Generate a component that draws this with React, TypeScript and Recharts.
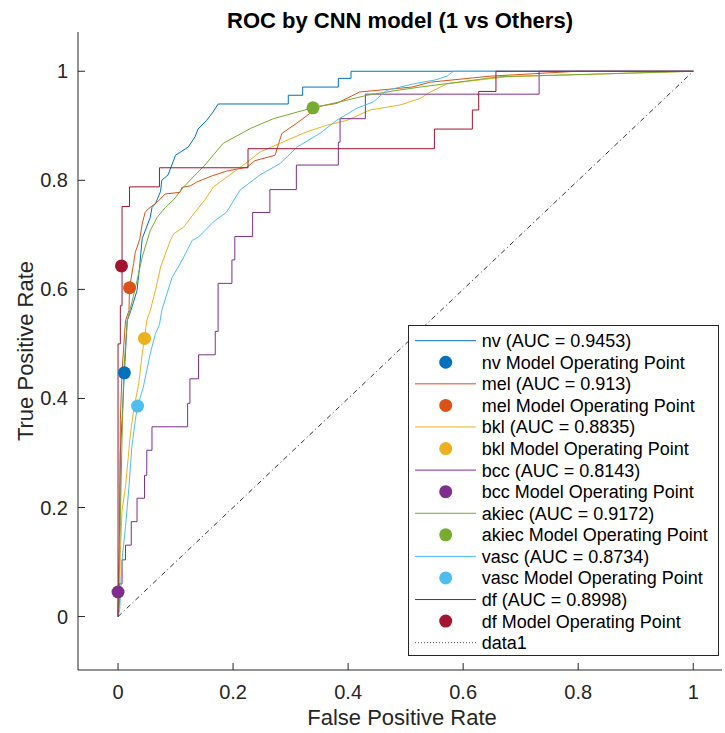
import React from 'react';
import { ComposedChart, Line, Scatter, XAxis, YAxis } from 'recharts';

type Pt = [number, number];

const FONT = '"Liberation Sans", Arial, Helvetica, sans-serif';

const classNames = ['nv', 'mel', 'bkl', 'bcc', 'akiec', 'vasc', 'df'];
const aucLabels = ['0.9453', '0.913', '0.8835', '0.8143', '0.9172', '0.8734', '0.8998'];
const classColors = ['#0072BD', '#D95319', '#EDB120', '#7E2F8E', '#77AC30', '#4DBEEE', '#A2142F'];

const nvRoc: Pt[] = [
  [0, 0], [0.002, 0.1], [0.004, 0.3], [0.008, 0.38], [0.011, 0.447], [0.016, 0.543], [0.022, 0.56],
  [0.033, 0.598], [0.038, 0.647], [0.042, 0.693], [0.056, 0.732], [0.059, 0.75], [0.065, 0.757],
  [0.074, 0.78], [0.076, 0.8], [0.087, 0.81], [0.1, 0.846], [0.122, 0.861], [0.134, 0.88],
  [0.139, 0.894], [0.154, 0.91], [0.165, 0.925], [0.174, 0.94], [0.296, 0.94], [0.296, 0.956],
  [0.321, 0.956], [0.321, 0.971], [0.383, 0.971], [0.383, 0.987], [0.405, 0.987], [0.405, 1], [1, 1],
];

const melRoc: Pt[] = [
  [0, 0], [0.003, 0.15], [0.004, 0.36], [0.007, 0.45], [0.013, 0.543], [0.019, 0.561], [0.02, 0.603],
  [0.027, 0.647], [0.03, 0.668], [0.038, 0.693], [0.042, 0.72], [0.047, 0.741], [0.053, 0.748],
  [0.068, 0.76], [0.082, 0.775], [0.108, 0.778], [0.111, 0.787], [0.126, 0.79], [0.137, 0.797],
  [0.163, 0.808], [0.189, 0.817], [0.224, 0.824], [0.238, 0.836], [0.273, 0.846], [0.28, 0.87],
  [0.285, 0.886], [0.311, 0.905], [0.334, 0.923], [0.345, 0.935], [0.38, 0.941], [0.42, 0.962],
  [0.511, 0.971], [0.543, 0.98], [0.647, 0.991], [0.798, 1], [1, 1],
];

const bklRoc: Pt[] = [
  [0, 0], [0.003, 0.06], [0.004, 0.116], [0.007, 0.195], [0.013, 0.238], [0.021, 0.329], [0.027, 0.378],
  [0.036, 0.427], [0.042, 0.482], [0.046, 0.51], [0.05, 0.543], [0.056, 0.561], [0.065, 0.598],
  [0.074, 0.641], [0.091, 0.69], [0.097, 0.702], [0.114, 0.714], [0.131, 0.738], [0.151, 0.764],
  [0.166, 0.788], [0.189, 0.806], [0.218, 0.828], [0.247, 0.852], [0.282, 0.868], [0.328, 0.889],
  [0.363, 0.901], [0.398, 0.91], [0.438, 0.929], [0.49, 0.938], [0.525, 0.95], [0.543, 0.962],
  [0.572, 0.977], [0.676, 0.99], [0.838, 0.995], [1, 1],
];

const bccRoc: Pt[] = [
  [0, 0], [0.002, 0.02], [0.002, 0.06], [0.007, 0.06], [0.007, 0.104], [0.013, 0.104], [0.013, 0.131],
  [0.023, 0.131], [0.023, 0.174], [0.033, 0.174], [0.033, 0.217], [0.046, 0.217], [0.046, 0.259],
  [0.05, 0.259], [0.05, 0.305], [0.059, 0.305], [0.059, 0.348], [0.121, 0.348], [0.121, 0.391],
  [0.125, 0.391], [0.125, 0.436], [0.14, 0.436], [0.14, 0.48], [0.169, 0.48], [0.169, 0.523],
  [0.174, 0.523], [0.174, 0.611], [0.198, 0.611], [0.198, 0.654], [0.203, 0.654], [0.203, 0.697],
  [0.234, 0.697], [0.234, 0.741], [0.264, 0.741], [0.264, 0.783], [0.31, 0.783], [0.31, 0.828],
  [0.383, 0.828], [0.383, 0.87], [0.386, 0.87], [0.386, 0.913], [0.43, 0.913], [0.43, 0.958],
  [0.732, 0.958], [0.732, 1], [1, 1],
];

const akiecRoc: Pt[] = [
  [0, 0], [0.001, 0.05], [0.004, 0.177], [0.007, 0.329], [0.01, 0.451], [0.016, 0.543], [0.025, 0.58],
  [0.033, 0.616], [0.042, 0.659], [0.056, 0.708], [0.068, 0.732], [0.082, 0.75], [0.097, 0.765],
  [0.112, 0.785], [0.125, 0.8], [0.151, 0.828], [0.183, 0.868], [0.23, 0.895], [0.27, 0.913],
  [0.311, 0.925], [0.339, 0.933], [0.386, 0.944], [0.433, 0.956], [0.485, 0.965], [0.525, 0.971],
  [0.664, 0.99], [0.838, 0.995], [1, 1],
];

const vascRoc: Pt[] = [
  [0, 0], [0.003, 0.012], [0.007, 0.104], [0.013, 0.165], [0.019, 0.238], [0.024, 0.311], [0.03, 0.36],
  [0.034, 0.386], [0.044, 0.421], [0.056, 0.482], [0.065, 0.519], [0.072, 0.535], [0.076, 0.561],
  [0.085, 0.592], [0.094, 0.622], [0.108, 0.647], [0.117, 0.665], [0.129, 0.69], [0.14, 0.696],
  [0.166, 0.724], [0.189, 0.742], [0.212, 0.782], [0.247, 0.81], [0.282, 0.831], [0.311, 0.861],
  [0.351, 0.886], [0.38, 0.91], [0.415, 0.932], [0.444, 0.944], [0.467, 0.965], [0.514, 0.977],
  [0.551, 0.984], [0.572, 0.991], [0.583, 1], [1, 1],
];

const dfRoc: Pt[] = [
  [0, 0], [0, 0.5], [0.004, 0.5], [0.004, 0.57], [0.007, 0.57], [0.007, 0.752], [0.02, 0.752],
  [0.02, 0.788], [0.072, 0.788], [0.072, 0.823], [0.226, 0.823], [0.226, 0.858], [0.55, 0.858],
  [0.55, 0.894], [0.616, 0.894], [0.616, 0.929], [0.627, 0.929], [0.627, 0.963], [0.657, 0.963],
  [0.657, 1], [1, 1],
];

const operatingPoints: Pt[] = [
  [0.011, 0.447], [0.02, 0.603], [0.046, 0.51], [0, 0.045], [0.339, 0.933], [0.034, 0.386], [0.006, 0.643],
];

const chanceLine: Pt[] = [[0, 0], [1, 1]];

const xTicks = [0, 0.2, 0.4, 0.6, 0.8, 1];
const yTicks = [0, 0.2, 0.4, 0.6, 0.8, 1];

const rocCurves: Pt[][] = [nvRoc, melRoc, bklRoc, bccRoc, akiecRoc, vascRoc, dfRoc];

const toRows = (pts: Pt[]) => pts.map(([fpr, tpr]) => ({ fpr, tpr }));

const AXIS = '#262626';

const XTick = (props: any) => {
  const { x, y, payload } = props;
  return (
    <g>
      <line x1={x} y1={y} x2={x} y2={y - 7} stroke={AXIS} strokeWidth={1} />
      <text x={x} y={y + 29} textAnchor="middle" fontSize={20} fill={AXIS} fontFamily={FONT}>
        {String(payload.value)}
      </text>
    </g>
  );
};

const YTick = (props: any) => {
  const { x, y, payload } = props;
  return (
    <g>
      <line x1={x} y1={y} x2={x + 7} y2={y} stroke={AXIS} strokeWidth={1} />
      <text x={x - 10} y={y + 7} textAnchor="end" fontSize={20} fill={AXIS} fontFamily={FONT}>
        {String(payload.value)}
      </text>
    </g>
  );
};

const W = 725;
const H = 733;

const legendLeft = 408;
const legendTop = 325;
const legendW = 310;
const legendH = 330;
const rowStep = 21.57;
const firstRow = 15.7;

export default function App() {
  const legendRows: { label: string; kind: 'line' | 'dot' | 'dotted'; color: string }[] = [];
  classNames.forEach((n, i) => {
    legendRows.push({ label: `${n} (AUC = ${aucLabels[i]})`, kind: 'line', color: classColors[i] });
    legendRows.push({ label: `${n} Model Operating Point`, kind: 'dot', color: classColors[i] });
  });
  legendRows.push({ label: 'data1', kind: 'dotted', color: '#555' });

  const series: React.ReactNode[] = [];
  classNames.forEach((n, i) => {
    series.push(
      <Line
        key={`l-${n}`}
        data={toRows(rocCurves[i])}
        dataKey="tpr"
        type="linear"
        stroke={classColors[i]}
        strokeWidth={1}
        dot={false}
        activeDot={false}
        isAnimationActive={false}
      />
    );
    series.push(
      <Scatter
        key={`s-${n}`}
        data={toRows([operatingPoints[i]])}
        dataKey="tpr"
        fill={classColors[i]}
        isAnimationActive={false}
        shape={(p: any) => <circle cx={p.cx} cy={p.cy} r={6.5} fill={classColors[i]} />}
      />
    );
  });

  return (
    <div style={{ position: 'absolute', left: 0, top: 0, width: W, height: H, background: '#fff' }}>
      <ComposedChart width={W} height={H} margin={{ top: 32, right: 3, bottom: 0, left: 0 }}>
        <XAxis
          type="number"
          dataKey="fpr"
          domain={[-0.0696, 1.05]}
          ticks={xTicks}
          interval={0}
          height={63}
          tickSize={0}
          tickMargin={0}
          tickLine={false}
          axisLine={{ stroke: AXIS, strokeWidth: 1 }}
          tick={(p: any) => <XTick {...p} />}
          allowDataOverflow
        />
        <YAxis
          type="number"
          dataKey="tpr"
          domain={[-0.098, 1.072]}
          ticks={yTicks}
          interval={0}
          width={78}
          tickSize={0}
          tickMargin={0}
          tickLine={false}
          axisLine={{ stroke: AXIS, strokeWidth: 1 }}
          tick={(p: any) => <YTick {...p} />}
          allowDataOverflow
        />
        {series}
        <Line
          data={toRows(chanceLine)}
          dataKey="tpr"
          type="linear"
          stroke="#333"
          strokeWidth={1}
          strokeDasharray="5 3 1 3"
          dot={false}
          activeDot={false}
          isAnimationActive={false}
        />
      </ComposedChart>
      <svg
        width={W}
        height={H}
        style={{ position: 'absolute', left: 0, top: 0, pointerEvents: 'none' }}
      >
        <text x={400} y={28} textAnchor="middle" fontSize={22} fontWeight="bold" fill="#000" fontFamily={FONT}>
          ROC by CNN model (1 vs Others)
        </text>
        <text x={402} y={725} textAnchor="middle" fontSize={22} fill={AXIS} fontFamily={FONT}>
          False Positive Rate
        </text>
        <text
          x={0}
          y={0}
          transform={`translate(33, 351) rotate(-90)`}
          textAnchor="middle"
          fontSize={22}
          fill={AXIS}
          fontFamily={FONT}
        >
          True Positive Rate
        </text>
        <g transform={`translate(${legendLeft}, ${legendTop})`}>
          <rect x={0.5} y={0.5} width={legendW} height={legendH} fill="#fff" stroke={AXIS} strokeWidth={1} />
          {legendRows.map((r, k) => {
            const cy = firstRow + k * rowStep;
            return (
              <g key={k}>
                {r.kind === 'line' && (
                  <line x1={7} y1={cy} x2={68} y2={cy} stroke={r.color} strokeWidth={1} />
                )}
                {r.kind === 'dotted' && (
                  <line x1={7} y1={cy} x2={68} y2={cy} stroke={r.color} strokeWidth={1} strokeDasharray="1 2" />
                )}
                {r.kind === 'dot' && <circle cx={37.7} cy={cy} r={6.5} fill={r.color} />}
                <text x={73.7} y={cy + 6.5} fontSize={18} fill="#000" fontFamily={FONT}>
                  {r.label}
                </text>
              </g>
            );
          })}
        </g>
      </svg>
    </div>
  );
}
